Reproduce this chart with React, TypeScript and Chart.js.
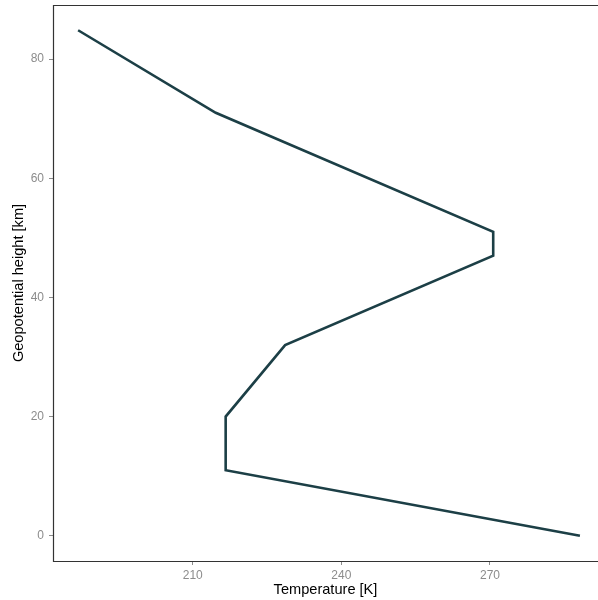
import React, { useEffect, useRef } from "react";
import { Chart, registerables } from "chart.js";

Chart.register(...registerables);

const temperature = [288.15, 216.65, 216.65, 228.65, 270.65, 270.65, 214.65, 186.87];
const height = [0, 11, 20, 32, 47, 51, 71, 84.85];
const xTicks = [210, 240, 270];
const yTicks = [0, 20, 40, 60, 80];

const FONT = "'Liberation Sans', Arial, Helvetica, sans-serif";

const frame = {
  id: "frame",
  afterDraw(chart: any) {
    const { ctx, chartArea } = chart;
    const t = Math.round(chartArea.top) + 0.5;
    const l = Math.round(chartArea.left) + 0.5;
    const b = Math.round(chartArea.bottom) + 0.5;
    ctx.save();
    ctx.strokeStyle = "#333333";
    ctx.lineWidth = 1.2;
    ctx.beginPath();
    ctx.moveTo(chartArea.right + 2, t);
    ctx.lineTo(l, t);
    ctx.lineTo(l, b);
    ctx.lineTo(chartArea.right + 2, b);
    ctx.stroke();
    ctx.restore();
  },
};

export default function App() {
  const ref = useRef<HTMLCanvasElement | null>(null);
  useEffect(() => {
    if (!ref.current) return;
    const chart = new Chart(ref.current, {
      type: "line",
      data: {
        datasets: [
          {
            data: temperature.map((t, i) => ({ x: t, y: height[i] })),
            borderColor: "#1c3f46",
            borderWidth: 2.6,
            pointRadius: 0,
            tension: 0,
            fill: false,
          },
        ],
      },
      options: {
        animation: false,
        responsive: false,
        maintainAspectRatio: false,
        layout: { padding: { top: 5, right: 0, left: 0, bottom: 0 } },
        plugins: { legend: { display: false }, tooltip: { enabled: false } },
        scales: {
          x: {
            type: "linear",
            min: 181.8,
            max: 291.8,
            afterBuildTicks: (s: any) => {
              s.ticks = xTicks.map((v) => ({ value: v }));
            },
            afterFit: (s: any) => {
              s.height = 39;
              s.paddingLeft = 0;
              s.paddingRight = 0;
            },
            grid: { drawOnChartArea: false, drawTicks: true, tickLength: 4, tickColor: "#8c8c8c", tickWidth: 1 },
            border: { display: false },
            ticks: { color: "#8c8c8c", font: { family: FONT, size: 12 }, padding: 3, maxRotation: 0 },
            title: { display: true, text: "Temperature [K]", color: "#000000", font: { family: FONT, size: 14.6 }, padding: { top: 0, bottom: 1 } },
          },
          y: {
            type: "linear",
            min: -4.24,
            max: 89.09,
            afterBuildTicks: (s: any) => {
              s.ticks = yTicks.map((v) => ({ value: v }));
            },
            afterFit: (s: any) => {
              s.width = 53;
              s.paddingTop = 0;
              s.paddingBottom = 0;
            },
            grid: { drawOnChartArea: false, drawTicks: true, tickLength: 4, tickColor: "#8c8c8c", tickWidth: 1 },
            border: { display: false },
            ticks: { color: "#8c8c8c", font: { family: FONT, size: 12 }, padding: 5 },
            title: { display: true, text: "Geopotential height [km]", color: "#000000", font: { family: FONT, size: 14.6 }, padding: { top: 10, bottom: 4 } },
          },
        },
      },
      plugins: [frame],
    });
    return () => chart.destroy();
  }, []);
  return (
    <div style={{ position: "absolute", left: 0, top: 0, width: 598, height: 600, background: "#ffffff" }}>
      <canvas ref={ref} width={598} height={600} style={{ width: 598, height: 600 }} />
    </div>
  );
}
